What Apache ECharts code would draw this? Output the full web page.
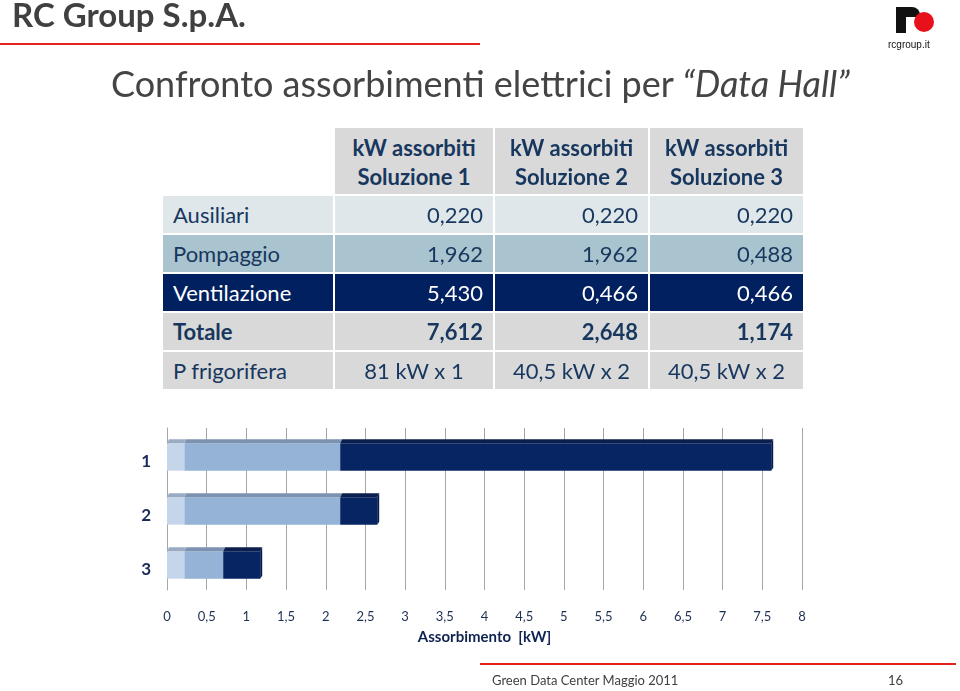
<!DOCTYPE html>
<html>
<head>
<meta charset="utf-8">
<script src="https://cdn.jsdelivr.net/npm/echarts@6/dist/echarts.min.js"></script>
<style>
  html, body { margin: 0; padding: 0; background: #fff; }
  #page { position: relative; width: 960px; height: 691px; overflow: hidden; font-family: Lato, "Open Sans", sans-serif; }
  #chart { position: absolute; left: 0; top: 0; width: 960px; height: 691px; }
  .txt { position: absolute; white-space: nowrap; }
  .cell { position: absolute; box-sizing: border-box; font-size: 22px; color: #17375e; display: flex; align-items: center; }
</style>
</head>
<body>
<div id="page">
  <div id="chart"></div>
  <div class="txt" style="left:12px;top:-6px;font-size:33px;font-weight:bold;color:#404040;">RC Group S.p.A.</div>
  <div class="txt" style="left:111px;top:61px;font-size:36px;color:#444;">Confronto assorbimenti elettrici per <i>“Data Hall”</i></div>
  <div class="txt" style="left:888px;top:39px;font-size:10px;color:#111;font-family:'Liberation Sans',Arial,sans-serif;">rcgroup.it</div>
  <div class="txt" style="left:492px;top:672px;font-size:13px;color:#404040;">Green Data Center Maggio 2011</div>
  <div class="txt" style="left:888px;top:672px;font-size:13px;color:#404040;">16</div>
  <div id="table"></div>
</div>
<script>
// table data
const headers = ['kW assorbiti<br>Soluzione 1', 'kW assorbiti<br>Soluzione 2', 'kW assorbiti<br>Soluzione 3'];
const rowNames = ['Ausiliari', 'Pompaggio', 'Ventilazione', 'Totale', 'P frigorifera'];
const rowValues = [
  ['0,220', '0,220', '0,220'],
  ['1,962', '1,962', '0,488'],
  ['5,430', '0,466', '0,466'],
  ['7,612', '2,648', '1,174'],
  ['81 kW x 1', '40,5 kW x 2', '40,5 kW x 2']
];

// chart data
const categories = ['1', '2', '3'];
const ausiliari = [0.220, 0.220, 0.220];
const pompaggio = [1.962, 1.962, 0.488];
const ventilazione = [5.430, 0.466, 0.466];
const xTicks = ['0', '0,5', '1', '1,5', '2', '2,5', '3', '3,5', '4', '4,5', '5', '5,5', '6', '6,5', '7', '7,5', '8'];

// --- table ---
const colX = [163, 335, 495, 650];
const colW = [170, 158, 153, 153];
const rowY = [196, 235, 274, 313, 352];
const rowH = 37;
const rowBg = ['#dfe7eb', '#a9c4cf', '#002060', '#d9d9d9', '#d9d9d9'];
let html = '';
headers.forEach((h, j) => {
  html += `<div class="cell" style="left:${colX[j + 1]}px;top:128px;width:${colW[j + 1]}px;height:66px;background:#d9d9d9;` +
    `justify-content:center;text-align:center;font-weight:bold;line-height:29px;padding-top:2px;">${h}</div>`;
});
rowNames.forEach((name, i) => {
  const fg = i === 2 ? '#fff' : '#17375e';
  const bold = i === 3 ? 'bold' : 'normal';
  html += `<div class="cell" style="left:${colX[0]}px;top:${rowY[i]}px;width:${colW[0]}px;height:${rowH}px;background:${rowBg[i]};` +
    `color:${fg};font-weight:${bold};padding-left:10px;">${name}</div>`;
  rowValues[i].forEach((v, j) => {
    const just = i === 4 ? 'center' : 'flex-end';
    html += `<div class="cell" style="left:${colX[j + 1]}px;top:${rowY[i]}px;width:${colW[j + 1]}px;height:${rowH}px;background:${rowBg[i]};` +
      `color:${fg};font-weight:${bold};justify-content:${just};padding-right:${i === 4 ? 0 : 10}px;">${v}</div>`;
  });
});
document.getElementById('table').innerHTML = html;

// --- chart ---
const segs = [ausiliari, pompaggio, ventilazione];
const front = ['#c5d5ea', '#95b3d7', '#072463'];
const topFace = ['#9aabc4', '#7c92b1', '#0b1f4f'];

function stackData(k) {
  return categories.map((c, i) => {
    let start = 0;
    for (let s = 0; s < k; s++) start += segs[s][i];
    return [i, start, start + segs[k][i]];
  });
}

function make3dSeries(k) {
  return {
    type: 'custom',
    name: ['Ausiliari', 'Pompaggio', 'Ventilazione'][k],
    data: stackData(k),
    encode: { x: [1, 2], y: 0 },
    renderItem: function (params, api) {
      const p0 = api.coord([api.value(1), api.value(0)]);
      const p1 = api.coord([api.value(2), api.value(0)]);
      const band = api.size([0, 1])[1];
      const h = band * 0.58;
      const d = 4;
      const top = p0[1] - h / 2;
      const x0 = p0[0], x1 = p1[0];
      const children = [
        {
          type: 'rect',
          shape: { x: x0, y: top + d, width: x1 - x0, height: h - d },
          style: { fill: front[k] }
        },
        {
          type: 'polygon',
          shape: { points: [[x0, top + d], [x0 + 2, top], [x1 + 2, top], [x1, top + d]] },
          style: { fill: topFace[k] }
        }
      ];
      if (k === 2) {
        children.push({
          type: 'polygon',
          shape: { points: [[x1, top + d], [x1 + 2, top], [x1 + 2, top + h - 3], [x1, top + h]] },
          style: { fill: '#041a4a' }
        });
      }
      return { type: 'group', children: children };
    }
  };
}

const chart = echarts.init(document.getElementById('chart'));
chart.setOption({
  animation: false,
  graphic: [
    { type: 'rect', shape: { x: 0, y: 43, width: 480, height: 2 }, style: { fill: '#e3231b' } },
    { type: 'rect', shape: { x: 480, y: 663, width: 476, height: 2 }, style: { fill: '#e3231b' } },
    { type: 'rect', shape: { x: 896, y: 7, width: 10, height: 26 }, style: { fill: '#111' } },
    { type: 'rect', shape: { x: 896, y: 7, width: 24, height: 10, r: [0, 8, 0, 0] }, style: { fill: '#111' } },
    { type: 'circle', shape: { cx: 924, cy: 22, r: 10 }, style: { fill: '#e8101a' } }
  ],
  grid: { left: 167, top: 428, width: 635, height: 162 },
  xAxis: {
    type: 'value',
    min: 0,
    max: 8,
    interval: 0.5,
    axisLine: { show: false },
    axisTick: { show: false },
    splitLine: { show: true, lineStyle: { color: '#a6a6a6', width: 1 } },
    axisLabel: {
      margin: 20,
      fontSize: 13,
      fontFamily: 'Lato',
      color: '#1f2f52',
      formatter: v => xTicks[Math.round(v * 2)]
    },
    name: 'Assorbimento  [kW]',
    nameLocation: 'middle',
    nameGap: 40,
    nameTextStyle: { fontSize: 15, fontWeight: 'bold', fontFamily: 'Lato', color: '#0f2350' }
  },
  yAxis: {
    type: 'category',
    data: categories,
    inverse: true,
    axisLine: { show: true, lineStyle: { color: '#a6a6a6' } },
    axisTick: { show: false },
    axisLabel: {
      margin: 16,
      formatter: v => '{c|' + v + '}',
      rich: {
        c: { fontSize: 17, fontWeight: 'bold', fontFamily: 'Lato', color: '#1c2a5a', padding: [14, 0, 0, 0] }
      }
    }
  },
  series: [make3dSeries(0), make3dSeries(1), make3dSeries(2)]
});
</script>
</body>
</html>
